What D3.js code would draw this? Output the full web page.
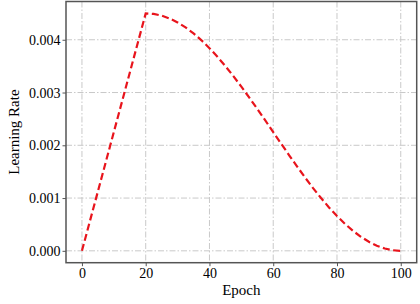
<!DOCTYPE html>
<html><head><meta charset="utf-8">
<script src="https://cdn.jsdelivr.net/npm/d3@7"></script>
<style>body{margin:0;background:#fff}svg{display:block}text{font-family:"Liberation Serif","Times New Roman",serif}</style>
</head><body>
<script>
const epochs = [0, 20, 22.5, 25, 27.5, 30, 32.5, 35, 37.5, 40, 42.5, 45, 47.5, 50, 52.5, 55, 57.5, 60,
  62.5, 65, 67.5, 70, 72.5, 75, 77.5, 80, 82.5, 85, 87.5, 90, 92.5, 95, 97.5, 100];
const learningRates = [0, 0.0045, 0.00449, 0.004457, 0.004403, 0.004329, 0.004234, 0.004121, 0.003989, 0.003841,
  0.003677, 0.0035, 0.003311, 0.003111, 0.002903, 0.002689, 0.002471, 0.00225,
  0.002029, 0.001811, 0.001597, 0.001389, 0.001189, 0.001, 0.000823, 0.000659,
  0.000511, 0.000379, 0.000266, 0.000171, 0.000097, 0.000043, 0.000011, 0];
const xTicks = [0, 20, 40, 60, 80, 100];
const yTicks = [0, 0.001, 0.002, 0.003, 0.004];
const xLabel = "Epoch", yLabel = "Learning Rate";

const W = 420, H = 304;
const m = {l: 66, r: 3.3, t: 1.5, b: 41.3};
const font = "Liberation Serif";
const svg = d3.select("body").append("svg").attr("width", W).attr("height", H).attr("font-family", font);
const x = d3.scaleLinear().domain([-5, 105]).range([m.l, W - m.r]);
const y = d3.scaleLinear().domain([-0.000225, 0.004725]).range([H - m.b, m.t]);

const grid = svg.append("g").attr("stroke", "#c9c9c9").attr("stroke-width", 1).attr("stroke-dasharray", "6,2,1.5,2");
grid.selectAll(".gx").data(xTicks).join("line").attr("x1", d => x(d)).attr("x2", d => x(d)).attr("y1", m.t).attr("y2", H - m.b);
grid.selectAll(".gy").data(yTicks).join("line").attr("y1", d => y(d)).attr("y2", d => y(d)).attr("x1", m.l).attr("x2", W - m.r);

const data = epochs.map((e, i) => ({e, v: learningRates[i]}));
svg.append("path").datum(data)
  .attr("fill", "none").attr("stroke", "#e8141c").attr("stroke-width", 2.2)
  .attr("stroke-dasharray", "7,3.5")
  .attr("d", d3.line().x(d => x(d.e)).y(d => y(d.v)));

svg.append("rect").attr("x", m.l).attr("y", m.t).attr("width", W - m.r - m.l).attr("height", H - m.b - m.t)
  .attr("fill", "none").attr("stroke", "#555").attr("stroke-width", 1.5);

const xa = svg.append("g").attr("transform", `translate(0,${H - m.b})`)
  .call(d3.axisBottom(x).tickValues(xTicks).tickSize(3.5).tickPadding(1.5).tickFormat(d3.format("d")));
const ya = svg.append("g").attr("transform", `translate(${m.l},0)`)
  .call(d3.axisLeft(y).tickValues(yTicks).tickSize(3.5).tickPadding(2).tickFormat(d3.format(".3f")));
[xa, ya].forEach(a => {
  a.attr("font-family", font).attr("font-size", 14);
  a.select(".domain").remove();
  a.selectAll(".tick line").attr("stroke", "#555").attr("stroke-width", 1);
  a.selectAll("text").attr("fill", "#000");
});

svg.append("text").attr("x", (m.l + W - m.r) / 2).attr("y", 295).attr("text-anchor", "middle")
  .attr("font-size", 15).text(xLabel);
svg.append("text").attr("transform", `translate(19,${(m.t + H - m.b) / 2}) rotate(-90)`).attr("text-anchor", "middle")
  .attr("font-size", 15).text(yLabel);
</script>
</body></html>
